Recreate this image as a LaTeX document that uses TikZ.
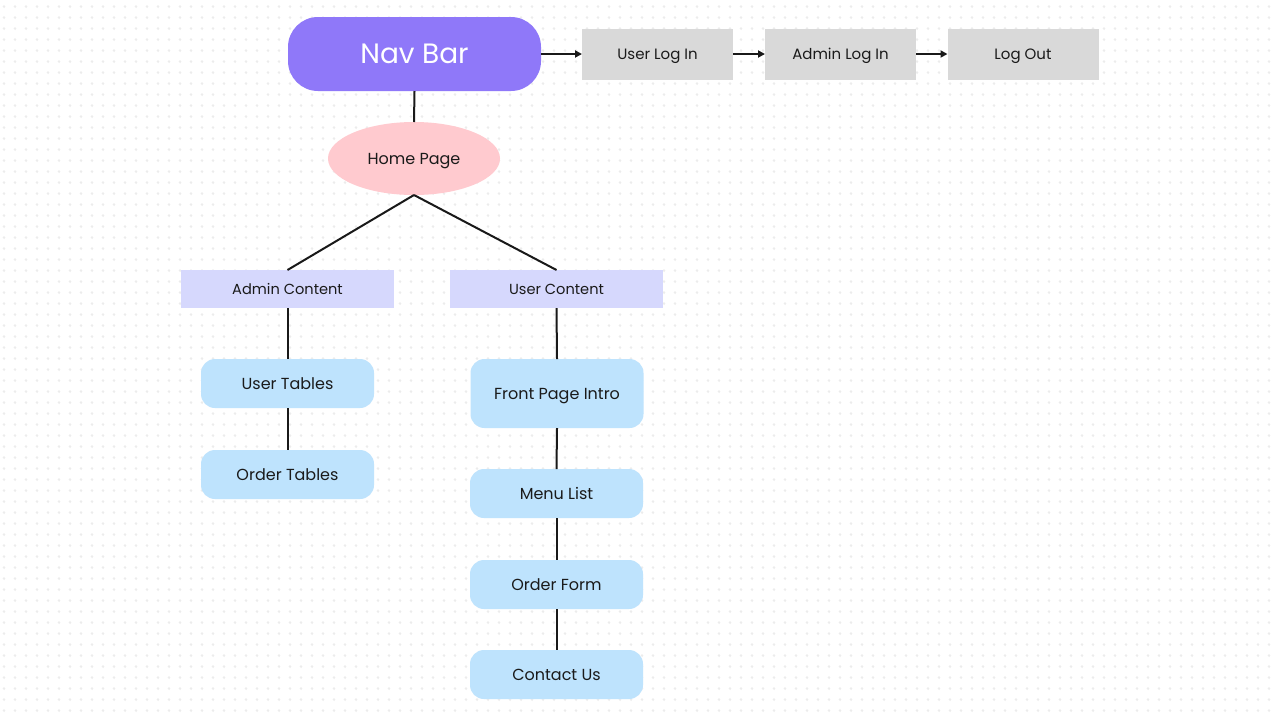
\documentclass[tikz,border=0pt]{standalone}
\usepackage{fontspec}
\setmainfont{Poppins}
\usetikzlibrary{shapes.geometric,arrows.meta,patterns}
\definecolor{navc}{HTML}{8F78F9}
\definecolor{grayc}{HTML}{D9D9D9}
\definecolor{pinkc}{HTML}{FFCACF}
\definecolor{lavc}{HTML}{D6D8FD}
\definecolor{bluec}{HTML}{BEE3FD}
\definecolor{dotc}{HTML}{ECECEC}
\definecolor{txt}{HTML}{1A1A1A}
\pgfdeclarepatternformonly{dotgrid}{\pgfpointorigin}{\pgfpoint{11pt}{10.95pt}}{\pgfpoint{11pt}{10.95pt}}{%
  \pgfpathcircle{\pgfpoint{5.5pt}{5.5pt}}{1.5pt}\pgfusepath{fill}}
\tikzset{
  base/.style={inner sep=0pt, outer sep=0pt, text=txt, text depth=0pt},
  navbox/.style={base, fill=navc, rounded corners=30pt, minimum width=253pt, minimum height=74pt, text=white, font=\fontsize{28}{32}\selectfont, text height=19.6pt},
  graybox/.style={base, fill=grayc, minimum width=151pt, minimum height=51pt, font=\fontsize{15}{18}\selectfont, text height=10.5pt},
  homeell/.style={base, ellipse, fill=pinkc, minimum width=172pt, minimum height=73pt, font=\fontsize{16}{19}\selectfont, text height=11.2pt},
  lavbox/.style={base, fill=lavc, minimum width=213pt, minimum height=38pt, font=\fontsize{14.6}{18}\selectfont, text height=10.2pt},
  bluebox/.style={base, fill=bluec, rounded corners=14pt, minimum width=173pt, minimum height=49pt, font=\fontsize{16}{19}\selectfont, text height=11.2pt},
  conn/.style={draw=black!90, line width=2pt},
  arr/.style={conn, -{Triangle[length=7pt,width=7pt]}},
}
\begin{document}
\begin{tikzpicture}[x=1pt,y=-1pt]
\useasboundingbox (0,0) rectangle (1273,716);
\fill[white] (0,0) rectangle (1273,716);
\fill[pattern=dotgrid, pattern color=dotc] (0,0) rectangle (1273,716);
\node[navbox] (nav) at (414.5,54) {Nav Bar};
\node[graybox] (uli) at (657.5,54) {User Log In};
\node[graybox] (ali) at (840.5,54) {Admin Log In};
\node[graybox] (lo) at (1023,54) {Log Out};
\node[homeell] (home) at (414,158.5) {Home Page};
\node[lavbox] (admin) at (287.5,289) {Admin Content};
\node[lavbox] (user) at (556.5,289) {User Content};
\node[bluebox] (ut) at (287.5,383.5) {User Tables};
\node[bluebox] (ot) at (287.5,474.5) {Order Tables};
\node[bluebox, minimum height=69pt] (fpi) at (557,393.5) {Front Page Intro};
\node[bluebox] (ml) at (556.5,493.5) {Menu List};
\node[bluebox] (of) at (556.5,584.5) {Order Form};
\node[bluebox] (cu) at (556.5,674.5) {Contact Us};
\draw[arr] (nav.east) -- (uli.west);
\draw[arr] (uli.east) -- (ali.west);
\draw[arr] (ali.east) -- (lo.west);
\draw[conn] (nav.south) -- (home.north);
\draw[conn] (home.south) -- (admin.north);
\draw[conn] (home.south) -- (user.north);
\draw[conn] (admin.south) -- (ut.north);
\draw[conn] (ut.south) -- (ot.north);
\draw[conn] (user.south) -- (fpi.north);
\draw[conn] (fpi.south) -- (ml.north);
\draw[conn] (ml.south) -- (of.north);
\draw[conn] (of.south) -- (cu.north);
\end{tikzpicture}
\end{document}
